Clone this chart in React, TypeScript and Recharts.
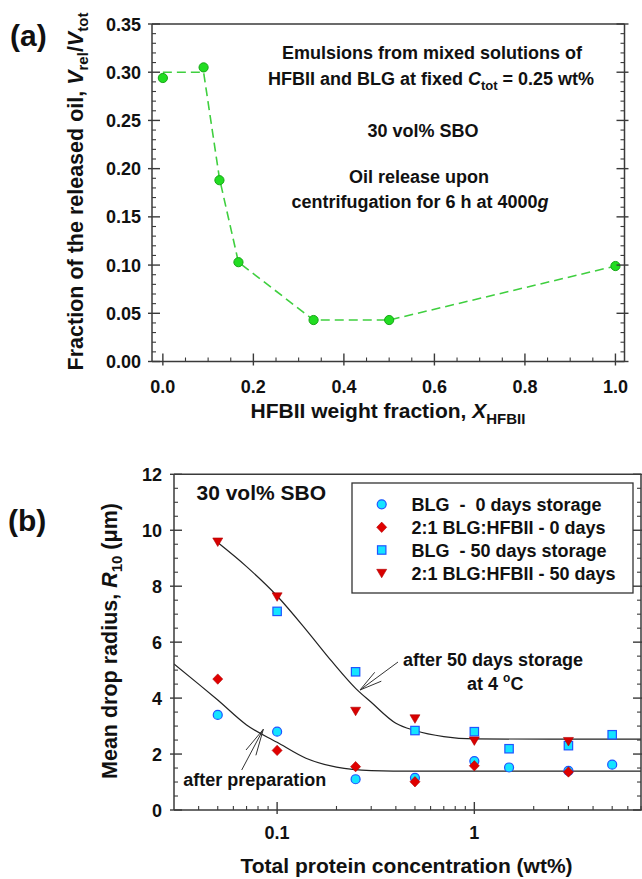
import React from 'react';
import { ComposedChart, Line, Scatter, XAxis, YAxis } from 'recharts';

const FONT = '"Liberation Sans", Arial, Helvetica, sans-serif';
const AXIS = '#3a3a3a';
const INK = '#111111';

// (a) oil released after centrifugation vs HFBII weight fraction
const hfbiiFraction = [0, 0.09, 0.125, 0.167, 0.333, 0.5, 1.0];
const releasedOil = [0.294, 0.305, 0.188, 0.103, 0.043, 0.043, 0.099];
const releasedOilGuide = [0.3, 0.3, 0.19, 0.103, 0.043, 0.043, 0.099];
const fractionMajorTicks = [0, 0.2, 0.4, 0.6, 0.8, 1.0];
const oilMajorTicks = [0, 0.05, 0.1, 0.15, 0.2, 0.25, 0.3, 0.35];

// (b) mean drop radius vs total protein concentration
const concBlg0 = [0.05, 0.1, 0.25, 0.5, 1, 1.5, 3, 5];
const radiusBlg0 = [3.4, 2.8, 1.1, 1.15, 1.75, 1.52, 1.4, 1.62];
const concMix0 = [0.05, 0.1, 0.25, 0.5, 1, 3];
const radiusMix0 = [4.68, 2.13, 1.55, 1.01, 1.58, 1.36];
const concBlg50 = [0.1, 0.25, 0.5, 1, 1.5, 3, 5];
const radiusBlg50 = [7.1, 4.94, 2.84, 2.8, 2.19, 2.3, 2.69];
const concMix50 = [0.05, 0.1, 0.25, 0.5, 1, 3];
const radiusMix50 = [9.58, 7.62, 3.53, 3.26, 2.47, 2.45];
const fitPrepConc = [0.03, 0.04, 0.05, 0.07, 0.1, 0.14, 0.2, 0.3, 0.5, 1, 7];
const fitPrepRadius = [5.22, 4.5, 3.93, 3.04, 2.42, 1.85, 1.53, 1.41, 1.39, 1.39, 1.39];
const fitStoredConc = [0.05, 0.07, 0.1, 0.14, 0.19, 0.25, 0.3, 0.4, 0.5, 0.7, 1, 7];
const fitStoredRadius = [9.56, 8.7, 7.65, 6.45, 5.3, 4.35, 3.85, 3.1, 2.84, 2.62, 2.54, 2.53];
const concMajorTicks = [0.1, 1];
const concTicks = [0.04, 0.05, 0.06, 0.07, 0.08, 0.09, 0.1, 0.2, 0.3, 0.4, 0.5, 0.6, 0.7, 0.8, 0.9, 1, 2, 3, 4, 5, 6, 7];
const radiusMajorTicks = [0, 2, 4, 6, 8, 10, 12];

const seriesLabels = [
  'BLG  -  0 days storage',
  '2:1 BLG:HFBII - 0 days',
  'BLG  - 50 days storage',
  '2:1 BLG:HFBII - 50 days',
];

const subdivide = (majors: number[], parts: number) => {
  const out: number[] = [];
  for (let i = 0; i < majors.length; i++) {
    out.push(majors[i]);
    if (i < majors.length - 1) {
      const step = (majors[i + 1] - majors[i]) / parts;
      for (let k = 1; k < parts; k++) out.push(majors[i] + step * k);
    }
  }
  return out;
};

const toPoints = (xs: number[], ys: number[]) => xs.map((x, i) => ({ x, y: ys[i] }));

const fractionTicks = subdivide(fractionMajorTicks, 4);
const oilTicks = subdivide(oilMajorTicks, 5);
const radiusTicks = subdivide(radiusMajorTicks, 4);

type Side = 'left' | 'right' | 'top' | 'bottom';

const isMajor = (v: number, majors: number[]) =>
  majors.some((m) => Math.abs(m - v) <= Math.abs(m) * 1e-6 + 1e-9);

function axisTick(side: Side, majors: number[], format?: (v: number) => string, gap = 0) {
  return (props: any) => {
    const { x, y, payload } = props;
    const v = payload.value as number;
    const major = isMajor(v, majors);
    const outLen = major ? 4 : 0;
    const inLen = major ? 8 : 4;
    let x1 = x, x2 = x, y1 = y, y2 = y;
    if (side === 'bottom') { y1 = y + outLen; y2 = y - inLen; }
    if (side === 'top') { y1 = y - outLen; y2 = y + inLen; }
    if (side === 'left') { x1 = x - outLen; x2 = x + inLen; }
    if (side === 'right') { x1 = x + outLen; x2 = x - inLen; }
    const label = format && major ? format(v) : null;
    return (
      <g>
        <line x1={x1} y1={y1} x2={x2} y2={y2} stroke={AXIS} strokeWidth={major ? 1.4 : 1.1} />
        {label !== null && side === 'bottom' && (
          <text x={x} y={y + gap} textAnchor="middle" fontFamily={FONT} fontWeight="bold" fontSize={18} fill={INK}>
            {label}
          </text>
        )}
        {label !== null && side === 'left' && (
          <text x={x - gap} y={y + 6.5} textAnchor="end" fontFamily={FONT} fontWeight="bold" fontSize={18} fill={INK}>
            {label}
          </text>
        )}
      </g>
    );
  };
}

const GreenDot = (p: any) => (
  <circle cx={p.cx} cy={p.cy} r={4.6} fill="#22dd22" stroke="#17a617" strokeWidth={1} />
);
const CyanCircle = (p: any) => (
  <circle cx={p.cx} cy={p.cy} r={4.5} fill="#14e4ff" stroke="#1f55ff" strokeWidth={1.2} />
);
const RedDiamond = (p: any) => (
  <polygon
    points={`${p.cx},${p.cy - 5.2} ${p.cx + 5},${p.cy} ${p.cx},${p.cy + 5.2} ${p.cx - 5},${p.cy}`}
    fill="#e00000"
    stroke="#b00000"
    strokeWidth={0.6}
  />
);
const CyanSquare = (p: any) => (
  <rect x={p.cx - 4.2} y={p.cy - 4.2} width={8.4} height={8.4} fill="#14e4ff" stroke="#1f55ff" strokeWidth={1.2} />
);
const RedTriangle = (p: any) => (
  <polygon
    points={`${p.cx - 5},${p.cy - 4} ${p.cx + 5},${p.cy - 4} ${p.cx},${p.cy + 4.5}`}
    fill="#d80000"
    stroke="#b00000"
    strokeWidth={0.6}
  />
);

const seriesShapes = [CyanCircle, RedDiamond, CyanSquare, RedTriangle];

const axisLine = { stroke: AXIS, strokeWidth: 1.5 };

function PanelA() {
  const common = {
    type: 'number' as const,
    domain: [-0.024, 1.02],
    allowDataOverflow: true,
    ticks: fractionTicks,
    interval: 0 as const,
    height: 1,
    tickSize: 0,
    tickMargin: 0,
    tickLine: false,
    axisLine,
  };
  const commonY = {
    type: 'number' as const,
    domain: [0, 0.35],
    allowDataOverflow: true,
    ticks: oilTicks,
    interval: 0 as const,
    width: 1,
    tickSize: 0,
    tickMargin: 0,
    tickLine: false,
    axisLine,
  };
  return (
    <ComposedChart width={642} height={440} margin={{ top: 23, right: 16.5, bottom: 77.5, left: 151 }}>
      <XAxis dataKey="x" {...common} tick={axisTick('bottom', fractionMajorTicks, (v) => v.toFixed(1), 31.5)} />
      <XAxis xAxisId="top" orientation="top" {...common} tick={axisTick('top', fractionMajorTicks)} />
      <YAxis dataKey="y" {...commonY} tick={axisTick('left', oilMajorTicks, (v) => v.toFixed(2), 11)} />
      <YAxis yAxisId="right" orientation="right" {...commonY} tick={axisTick('right', oilMajorTicks)} />
      <Line
        data={toPoints(hfbiiFraction, releasedOilGuide)}
        dataKey="y"
        type="linear"
        stroke="#3fcf3f"
        strokeWidth={1.6}
        strokeDasharray="9 5"
        dot={false}
        activeDot={false}
        isAnimationActive={false}
      />
      <Scatter data={toPoints(hfbiiFraction, releasedOil)} dataKey="y" shape={GreenDot} isAnimationActive={false} />
    </ComposedChart>
  );
}

function PanelB() {
  const commonX = {
    type: 'number' as const,
    scale: 'log' as const,
    domain: [0.03, 7],
    allowDataOverflow: true,
    ticks: concTicks,
    interval: 0 as const,
    height: 1,
    tickSize: 0,
    tickMargin: 0,
    tickLine: false,
    axisLine,
  };
  const commonY = {
    type: 'number' as const,
    domain: [0, 12],
    allowDataOverflow: true,
    ticks: radiusTicks,
    interval: 0 as const,
    width: 1,
    tickSize: 0,
    tickMargin: 0,
    tickLine: false,
    axisLine,
  };
  const scatterData = [
    toPoints(concBlg0, radiusBlg0),
    toPoints(concMix0, radiusMix0),
    toPoints(concBlg50, radiusBlg50),
    toPoints(concMix50, radiusMix50),
  ];
  return (
    <ComposedChart width={642} height={439} margin={{ top: 33.3, right: 0, bottom: 68, left: 173 }}>
      <XAxis dataKey="x" {...commonX} tick={axisTick('bottom', concMajorTicks, (v) => String(v), 29)} />
      <XAxis xAxisId="top" orientation="top" {...commonX} tick={axisTick('top', concMajorTicks)} />
      <YAxis dataKey="y" {...commonY} tick={axisTick('left', radiusMajorTicks, (v) => String(v), 12)} />
      <YAxis yAxisId="right" orientation="right" {...commonY} tick={axisTick('right', radiusMajorTicks)} />
      <Line
        data={toPoints(fitPrepConc, fitPrepRadius)}
        dataKey="y"
        type="monotone"
        stroke="#222"
        strokeWidth={1.2}
        dot={false}
        activeDot={false}
        legendType="none"
        isAnimationActive={false}
      />
      <Line
        data={toPoints(fitStoredConc, fitStoredRadius)}
        dataKey="y"
        type="monotone"
        stroke="#222"
        strokeWidth={1.2}
        dot={false}
        activeDot={false}
        legendType="none"
        isAnimationActive={false}
      />
      {scatterData.map((d, i) => (
        <Scatter
          key={seriesLabels[i]}
          name={seriesLabels[i]}
          data={d}
          dataKey="y"
          shape={seriesShapes[i]}
          isAnimationActive={false}
        />
      ))}
    </ComposedChart>
  );
}

function Arrow({ tip, from, heads }: { tip: [number, number]; from: [number, number]; heads: [number, number][] }) {
  return (
    <g stroke="#333" strokeWidth={1} fill="none">
      <line x1={from[0]} y1={from[1]} x2={tip[0]} y2={tip[1]} />
      {heads.map((h, i) => (
        <line key={i} x1={h[0]} y1={h[1]} x2={tip[0]} y2={tip[1]} />
      ))}
    </g>
  );
}

function Overlay() {
  const legendRows = [504.3, 527.3, 550, 573.3];
  return (
    <svg
      width={642}
      height={879}
      style={{ position: 'absolute', left: 0, top: 0, pointerEvents: 'none' }}
      fontFamily={FONT}
      fontWeight="bold"
      fill={INK}
    >
      {/* panel (a) */}
      <text x={10} y={45.5} fontSize={30}>(a)</text>
      <text transform="translate(83,191.5) rotate(-90)" textAnchor="middle" fontSize={21.5}>
        Fraction of the released oil,{' '}
        <tspan fontStyle="italic">V</tspan>
        <tspan fontSize={15} dy={5}>rel</tspan>
        <tspan dy={-5}>/</tspan>
        <tspan fontStyle="italic">V</tspan>
        <tspan fontSize={15} dy={5}>tot</tspan>
      </text>
      <text x={388} y={418} textAnchor="middle" fontSize={21}>
        HFBII weight fraction, <tspan fontStyle="italic">X</tspan>
        <tspan fontSize={15} dy={6}>HFBII</tspan>
      </text>
      <g fontSize={18} textAnchor="middle">
        <text x={432} y={59}>Emulsions from mixed solutions of</text>
        <text x={431} y={85}>
          HFBII and BLG at fixed <tspan fontStyle="italic">C</tspan>
          <tspan fontSize={13} dy={5}>tot</tspan>
          <tspan dy={-5}> = 0.25 wt%</tspan>
        </text>
        <text x={423} y={137}>30 vol% SBO</text>
        <text x={419} y={183}>Oil release upon</text>
        <text x={420} y={208}>
          centrifugation for 6 h at 4000<tspan fontStyle="italic">g</tspan>
        </text>
      </g>

      {/* panel (b) */}
      <text x={8} y={531} fontSize={30}>(b)</text>
      <text transform="translate(117,641) rotate(-90)" textAnchor="middle" fontSize={21.5}>
        Mean drop radius, <tspan fontStyle="italic">R</tspan>
        <tspan fontSize={15} dy={5}>10</tspan>
        <tspan dy={-5}> (μm)</tspan>
      </text>
      <text x={406.5} y={873} textAnchor="middle" fontSize={21}>
        Total protein concentration (wt%)
      </text>
      <text x={196.5} y={500} fontSize={21}>30 vol% SBO</text>

      <rect x={352} y={483} width={281} height={110} fill="#fff" stroke="#333" strokeWidth={1.3} />
      {seriesLabels.map((label, i) => {
        const Shape = seriesShapes[i];
        return (
          <g key={label}>
            <Shape cx={381.7} cy={legendRows[i]} />
            <text x={411.5} y={legendRows[i] + 6.5} fontSize={18} style={{ whiteSpace: 'pre' }}>
              {label}
            </text>
          </g>
        );
      })}

      <text x={403} y={666} fontSize={18}>after 50 days storage</text>
      <text x={467} y={690} fontSize={18}>
        at 4 <tspan fontSize={12} dy={-8}>o</tspan>
        <tspan dy={8}>C</tspan>
      </text>
      <Arrow tip={[360, 690]} from={[398, 662]} heads={[[374.7, 672.3], [381.3, 681.2]]} />

      <text x={183.3} y={786} fontSize={18}>after preparation</text>
      <Arrow tip={[263.3, 729.3]} from={[241.7, 770]} heads={[[255.9, 755.3], [246, 750]]} />
    </svg>
  );
}

export default function App() {
  return (
    <div style={{ position: 'relative', width: 642, height: 879, fontFamily: FONT, background: '#fff' }}>
      <style>{'body{margin:0}'}</style>
      <div style={{ position: 'absolute', left: 0, top: 0 }}>
        <PanelA />
      </div>
      <div style={{ position: 'absolute', left: 0, top: 440 }}>
        <PanelB />
      </div>
      <Overlay />
    </div>
  );
}
